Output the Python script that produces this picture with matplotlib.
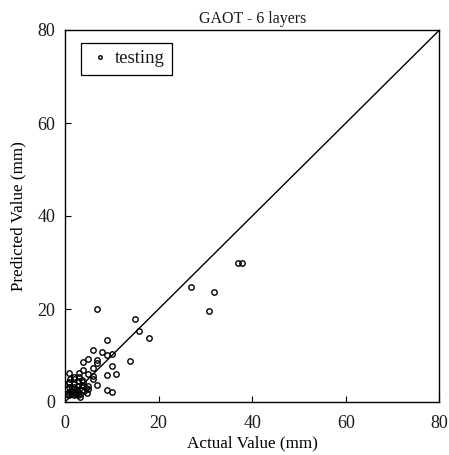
import matplotlib
matplotlib.use("Agg")
import matplotlib.pyplot as plt

plt.rcParams['font.family'] = ['Liberation Serif', 'DejaVu Serif']
plt.rcParams['text.color'] = '#1a1a1a'
plt.rcParams['xtick.labelcolor'] = '#1a1a1a'
plt.rcParams['ytick.labelcolor'] = '#1a1a1a'

# Testing set: actual vs predicted values (mm)
actual = [
    6.9, 15.0, 15.9, 17.9, 8.9, 5.9, 7.9, 8.9, 10.0, 4.9, 3.9, 6.9, 6.9, 13.9,
    10.0, 5.9, 3.9, 0.9, 1.9, 2.9, 4.9, 5.9, 11.0, 8.9, 5.9, 0.9, 3.9, 6.9,
    4.9, 8.9, 10.0, 26.9, 31.8, 30.8, 36.9, 37.9,
    0.9, 0.9, 0.9, 0.9, 1.9, 1.9, 1.9, 1.9, 2.8, 2.8, 2.8, 2.8, 3.7, 3.7, 3.7,
    4.4, 4.6, 0.5, 1.4, 2.3, 3.2, 0.5, 1.4, 2.3, 3.2, 4.1, 5.0, 2.0, 3.0, 1.0,
]
predicted = [
    20.1, 17.8, 15.3, 13.7, 13.3, 11.2, 10.7, 10.2, 10.4, 9.3, 8.6, 9.0, 8.3, 8.8,
    7.7, 7.3, 6.9, 6.2, 5.4, 6.3, 6.0, 5.6, 6.0, 5.7, 4.9, 4.4, 4.4, 3.7,
    2.9, 2.6, 2.2, 24.8, 23.7, 19.5, 30.0, 29.9,
    4.0, 3.2, 2.2, 1.4, 4.0, 3.2, 2.2, 1.4, 4.5, 3.4, 2.2, 1.4, 4.7, 3.6, 2.5,
    3.1, 2.0, 2.7, 2.7, 2.9, 1.0, 1.8, 1.8, 1.8, 1.8, 2.4, 3.5, 5.0, 5.4, 5.0,
]

ticks = [0, 20, 40, 60, 80]

W, H = 449, 455
fig = plt.figure(figsize=(W / 100, H / 100), dpi=100)
ax_w, ax_h = 374.5, 372
ax = fig.add_axes([65 / W, 1 - 402 / H, ax_w / W, ax_h / H])

ax.plot([0, 80], [0, 80], color='black', lw=1.0)
ax.plot(actual, predicted, 'o', mfc='none', mec='black', ms=3.9, mew=1.0,
        linestyle='none', label='testing')

ax.set_xlim(0, 80)
ax.set_ylim(0, 80)
ax.set_xticks(ticks)
ax.set_yticks(ticks)
ax.tick_params(axis='x', direction='in', length=4, width=0.8, labelsize=13,
               top=False, pad=9)
ax.tick_params(axis='y', direction='in', length=4, width=0.8, labelsize=13,
               right=False, pad=7)
for s in ax.spines.values():
    s.set_linewidth(1.0)

ax.set_xlabel('Actual Value (mm)', fontsize=12.3, labelpad=3)
ax.set_ylabel('Predicted Value (mm)', fontsize=12.3, labelpad=8)
ax.set_title('GAOT - 6 layers', fontsize=11.5, pad=5)

leg = ax.legend(loc='upper left', bbox_to_anchor=(16 / ax_w, 1 - 12.7 / ax_h),
                borderaxespad=0, fancybox=False, edgecolor='black',
                fontsize=13.5, markerscale=0.65, handlelength=1.2,
                handletextpad=0.2, borderpad=0.4, framealpha=1)
leg.get_frame().set_linewidth(0.9)

fig.savefig('out.png', dpi=100)
